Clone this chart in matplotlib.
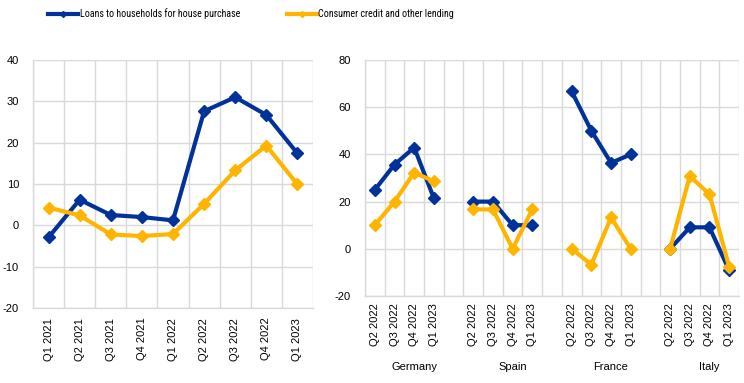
import numpy as np
import matplotlib
matplotlib.use('Agg')
import matplotlib.pyplot as plt
from matplotlib.lines import Line2D

plt.rcParams['font.family'] = ['Liberation Sans', 'DejaVu Sans']
plt.rcParams['font.size'] = 8
plt.rcParams['axes.unicode_minus'] = False

BLUE = '#003299'
YELLOW = '#FFB400'
GRID = '#D9D9D9'

# left panel: euro area
quarters = ['Q1 2021', 'Q2 2021', 'Q3 2021', 'Q4 2021', 'Q1 2022',
            'Q2 2022', 'Q3 2022', 'Q4 2022', 'Q1 2023']
ea_house = [-2.9, 6.2, 2.5, 2.0, 1.2, 27.6, 31.0, 26.7, 17.4]
ea_consumer = [4.3, 2.4, -2.2, -2.6, -2.1, 5.2, 13.3, 19.3, 9.9]

# right panel: countries
countries = ['Germany', 'Spain', 'France', 'Italy']
country_quarters = ['Q2 2022', 'Q3 2022', 'Q4 2022', 'Q1 2023']
house = {
    'Germany': [25.0, 35.7, 42.9, 21.4],
    'Spain': [20.0, 20.0, 10.0, 10.0],
    'France': [66.7, 50.0, 36.4, 40.0],
    'Italy': [0.0, 9.1, 9.1, -9.1],
}
consumer = {
    'Germany': [10.0, 20.0, 32.3, 28.6],
    'Spain': [16.7, 16.7, 0.0, 16.7],
    'France': [0.0, -6.7, 13.3, 0.0],
    'Italy': [0.0, 30.8, 23.1, -7.7],
}

fig = plt.figure(figsize=(7.44, 3.83), dpi=100)
ax1 = fig.add_axes([33/744, 1-308/383, 280/744, 248/383])
ax2 = fig.add_axes([365/744, 1-296/383, 374/744, 236/383])

lw = 3
ms = 6.5


def style(ax, ylim, yticks, xpad):
    ax.set_ylim(*ylim)
    ax.set_yticks(yticks)
    ax.grid(axis='y', color=GRID, lw=1)
    ax.grid(axis='x', which='minor', color=GRID, lw=1)
    ax.set_axisbelow(True)
    for s in ['top', 'right']:
        ax.spines[s].set_visible(False)
    for s in ['left', 'bottom']:
        ax.spines[s].set_color(GRID)
        ax.spines[s].set_linewidth(1)
    ax.tick_params(axis='both', which='both', length=0)
    ax.tick_params(axis='y', pad=10)
    ax.tick_params(axis='x', pad=xpad, labelrotation=90)


# left
x1 = np.arange(len(quarters))
ax1.plot(x1, ea_house, color=BLUE, lw=lw, marker='D', ms=ms)
ax1.plot(x1, ea_consumer, color=YELLOW, lw=lw, marker='D', ms=ms)
ax1.set_xlim(-0.5, len(quarters) - 0.5)
ax1.set_xticks(x1)
ax1.set_xticklabels(quarters)
ax1.set_xticks(np.arange(-0.5, len(quarters)), minor=True)
style(ax1, (-20, 40), range(-20, 41, 10), 7)

# right
h_all, c_all, labels = [], [], []
for i, c in enumerate(countries):
    h_all += house[c]
    c_all += consumer[c]
    labels += country_quarters
    if i < len(countries) - 1:
        h_all.append(np.nan)
        c_all.append(np.nan)
        labels.append('')
x2 = np.arange(len(h_all))
ax2.plot(x2, h_all, color=BLUE, lw=lw, marker='D', ms=ms)
ax2.plot(x2, c_all, color=YELLOW, lw=lw, marker='D', ms=ms)
ax2.set_xlim(-0.5, len(h_all) - 0.5)
ax2.set_xticks(x2)
ax2.set_xticklabels(labels)
ax2.set_xticks(np.arange(-0.5, len(h_all)), minor=True)
style(ax2, (-20, 80), range(-20, 81, 20), 5)

for i, c in enumerate(countries):
    ax2.text(i * 5 + 2, -0.3, c, transform=ax2.get_xaxis_transform(),
             ha='center', va='center', fontsize=8)

# legend
handles = [Line2D([], [], color=BLUE, lw=3, marker='D', ms=3),
           Line2D([], [], color=YELLOW, lw=3, marker='D', ms=3)]
names = ['Loans to households for house purchase', 'Consumer credit and other lending']
fig.legend(handles, names, loc='center left', bbox_to_anchor=(48/744, 1-14/383),
           ncol=2, frameon=False, borderpad=0, borderaxespad=0,
           handlelength=3.0, handletextpad=0.15, columnspacing=4.7,
           prop={'family': ['Roboto Condensed', 'Liberation Sans'], 'size': 7.2})

fig.savefig('out.png', dpi=100)
